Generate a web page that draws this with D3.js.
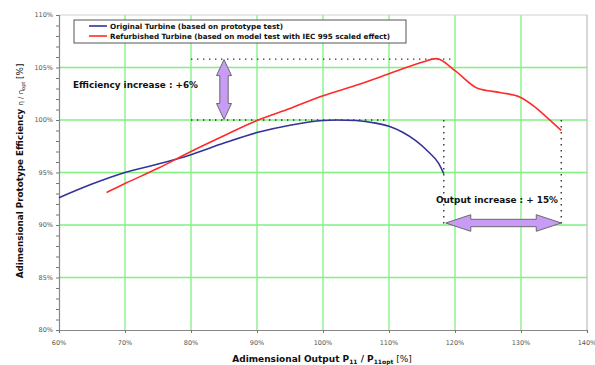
<!DOCTYPE html>
<html><head><meta charset="utf-8">
<script src="https://cdn.jsdelivr.net/npm/d3@7"></script>
<style>body{margin:0;background:#fff}svg{display:block}</style>
</head><body>
<svg id="c" width="595" height="365"></svg>
<script>
// ---- data ----
const xTicks = [60, 70, 80, 90, 100, 110, 120, 130, 140];
const yTicks = [80, 85, 90, 95, 100, 105, 110];
const xTickLabels = ["60%", "70%", "80%", "90%", "100%", "110%", "120%", "130%", "140%"];
const yTickLabels = ["80%", "85%", "90%", "95%", "100%", "105%", "110%"];
const yMinorTicks = d3.range(80, 110.5, 1);

const originalX = [60, 65, 70, 75, 80, 85, 90, 95, 100, 102, 105, 108, 110, 112, 114, 116, 117.5, 118.3];
const originalY = [92.6, 93.9, 95.0, 95.8, 96.7, 97.8, 98.8, 99.5, 99.95, 100.0, 99.95, 99.7, 99.4, 98.85, 98.05, 96.95, 95.9, 94.9];

const refurbX = [67.2, 70, 75, 80, 85, 90, 95, 100, 105, 110, 115, 117.2, 120, 123.5, 127, 129.8, 132, 134, 136.1];
const refurbY = [93.1, 93.95, 95.4, 97.0, 98.5, 99.95, 101.1, 102.3, 103.3, 104.4, 105.5, 105.85, 104.7, 103.0, 102.6, 102.2, 101.3, 100.2, 99.0];

const seriesNames = ["Original Turbine (based on prototype test)",
  "Refurbished Turbine (based on model test with IEC 995 scaled effect)"];

// annotation values
const effTop = 105.8, effBase = 100, effArrowX = 85;
const effTopRange = [80, 120], effBaseRange = [80, 110];
const outStart = 118.3, outEnd = 136.1, outLevel = 90, outTopLevel = 100;
const effText = "Efficiency increase : +6%";
const outText = "Output increase : + 15%";

// ---- layout ----
const svg = d3.select("#c");
const L = 59, R = 587, T = 15, B = 330;
const x = d3.scaleLinear().domain([60, 140]).range([L, R]);
const y = d3.scaleLinear().domain([80, 110]).range([B, T]);
const FONT = "DejaVu Sans, Verdana, sans-serif";

svg.append("rect").attr("width", 595).attr("height", 365).attr("fill", "#fff");

// grid
const grid = svg.append("g").attr("stroke", "#7ff27f").attr("stroke-width", 1.3);
xTicks.filter(d => d > 60 && d < 140).forEach(d => {
  grid.append("line").attr("x1", x(d)).attr("x2", x(d)).attr("y1", T).attr("y2", B);
});
yTicks.filter(d => d > 80 && d < 110).forEach(d => {
  grid.append("line").attr("x1", L).attr("x2", R).attr("y1", y(d)).attr("y2", y(d));
});

// frame top/right
svg.append("line").attr("x1", L).attr("x2", R).attr("y1", T).attr("y2", T).attr("stroke", "#cfcfcf").attr("stroke-width", 1.2);
svg.append("line").attr("x1", R).attr("x2", R).attr("y1", T).attr("y2", B).attr("stroke", "#bdbdbd").attr("stroke-width", 1.2);

// axes
const yAxis = d3.axisLeft(y).tickValues(yMinorTicks).tickSize(3).tickFormat("");
const gy = svg.append("g").attr("transform", `translate(${L},0)`).call(yAxis);
gy.select(".domain").attr("stroke", "#888").attr("stroke-width", 1.2);
gy.selectAll(".tick line").attr("stroke", "#777");

const xAxis = d3.axisBottom(x).tickValues(xTicks).tickSize(3).tickFormat("");
const gx = svg.append("g").attr("transform", `translate(0,${B})`).call(xAxis);
gx.select(".domain").attr("stroke", "#888").attr("stroke-width", 1.2);
gx.selectAll(".tick line").attr("stroke", "#777");

// tick labels
svg.append("g").selectAll("text").data(yTicks).join("text")
  .attr("x", 53).attr("y", d => y(d)).attr("dy", "0.35em")
  .attr("text-anchor", "end").attr("font-family", FONT).attr("font-size", 6.5)
  .attr("fill", "#555").text((d, i) => yTickLabels[i]);
svg.append("g").selectAll("text").data(xTicks).join("text")
  .attr("x", d => x(d)).attr("y", 345)
  .attr("text-anchor", "middle").attr("font-family", FONT).attr("font-size", 6.5)
  .attr("fill", "#555").text((d, i) => xTickLabels[i]);

// axis titles
const xt = svg.append("text").attr("x", 322).attr("y", 362).attr("text-anchor", "middle")
  .attr("font-family", FONT).attr("font-weight", "bold").attr("font-size", 9).attr("fill", "#111");
xt.append("tspan").text("Adimensional Output P");
xt.append("tspan").attr("font-size", 6).attr("dy", 2).text("11");
xt.append("tspan").attr("dy", -2).text(" / P");
xt.append("tspan").attr("font-size", 6).attr("dy", 2).text("11opt");
xt.append("tspan").attr("dy", -2).attr("font-weight", "normal").text(" [%]");

const yt = svg.append("text").attr("transform", `translate(23,171) rotate(-90)`).attr("text-anchor", "middle")
  .attr("font-family", FONT).attr("font-weight", "bold").attr("font-size", 8.8).attr("fill", "#111");
yt.append("tspan").text("Adimensional Prototype Efficiency ");
yt.append("tspan").attr("font-weight", "normal").attr("font-size", 7).text("η / η");
yt.append("tspan").attr("font-weight", "normal").attr("font-size", 5).attr("dy", 2).text("opt");
yt.append("tspan").attr("font-weight", "normal").attr("dy", -2).text(" [%]");

// dotted guide lines
const dots = svg.append("g").attr("stroke", "#333").attr("stroke-width", 1.4).attr("stroke-dasharray", "1.4,4.6");
dots.append("line").attr("x1", x(effTopRange[0])).attr("x2", x(effTopRange[1])).attr("y1", y(effTop)).attr("y2", y(effTop));
dots.append("line").attr("x1", x(effBaseRange[0])).attr("x2", x(effBaseRange[1])).attr("y1", y(effBase)).attr("y2", y(effBase));
dots.append("line").attr("x1", x(outStart)).attr("x2", x(outStart)).attr("y1", y(outTopLevel)).attr("y2", y(outLevel));
dots.append("line").attr("x1", x(outEnd)).attr("x2", x(outEnd)).attr("y1", y(outTopLevel)).attr("y2", y(outLevel));

// curves
const line = d3.line().x(d => x(d[0])).y(d => y(d[1])).curve(d3.curveMonotoneX);
svg.append("path").datum(d3.zip(originalX, originalY)).attr("d", line)
  .attr("fill", "none").attr("stroke", "#33339a").attr("stroke-width", 1.6);
svg.append("path").datum(d3.zip(refurbX, refurbY)).attr("d", line)
  .attr("fill", "none").attr("stroke", "#ff2a2a").attr("stroke-width", 1.6);

// double arrows
function vArrow(cx, y1, y2, hw, sw, hl) {
  return `M${cx},${y1} L${cx + hw},${y1 + hl} L${cx + sw},${y1 + hl} L${cx + sw},${y2 - hl} L${cx + hw},${y2 - hl} L${cx},${y2} L${cx - hw},${y2 - hl} L${cx - sw},${y2 - hl} L${cx - sw},${y1 + hl} L${cx - hw},${y1 + hl} Z`;
}
function hArrow(cy, x1, x2, hw, sw, hl) {
  return `M${x1},${cy} L${x1 + hl},${cy - hw} L${x1 + hl},${cy - sw} L${x2 - hl},${cy - sw} L${x2 - hl},${cy - hw} L${x2},${cy} L${x2 - hl},${cy + hw} L${x2 - hl},${cy + sw} L${x1 + hl},${cy + sw} L${x1 + hl},${cy + hw} Z`;
}
svg.append("path").attr("d", vArrow(x(effArrowX), y(effTop) + 0.5, y(effBase) - 0.5, 7.5, 4.2, 16))
  .attr("fill", "#c89cf5").attr("stroke", "#6a6a6a").attr("stroke-width", 1);
svg.append("path").attr("d", hArrow(y(outLevel) - 2, x(outStart) + 2, x(outEnd), 8.3, 3.7, 25))
  .attr("fill", "#c89cf5").attr("stroke", "#6a6a6a").attr("stroke-width", 1);

// annotation texts
svg.append("text").attr("x", 73).attr("y", 88).attr("font-family", FONT).attr("font-weight", "bold")
  .attr("font-size", 9.5).attr("fill", "#111").attr("textLength", 125).attr("lengthAdjust", "spacingAndGlyphs").text(effText);
svg.append("text").attr("x", 436).attr("y", 202.5).attr("font-family", FONT).attr("font-weight", "bold")
  .attr("font-size", 9.3).attr("fill", "#111").attr("textLength", 122).attr("lengthAdjust", "spacingAndGlyphs").text(outText);

// legend
const lg = svg.append("g");
lg.append("rect").attr("x", 74).attr("y", 20).attr("width", 332).attr("height", 23)
  .attr("fill", "#fff").attr("stroke", "#555").attr("stroke-width", 1);
const legColors = ["#33339a", "#ff2a2a"];
const legW = [173, 280];
seriesNames.forEach((name, i) => {
  const ly = 26 + i * 10;
  lg.append("line").attr("x1", 89).attr("x2", 107).attr("y1", ly).attr("y2", ly)
    .attr("stroke", legColors[i]).attr("stroke-width", 1.6);
  lg.append("text").attr("x", 110).attr("y", ly + 2.6).attr("font-family", FONT).attr("font-weight", "bold")
    .attr("font-size", 7.2).attr("fill", "#111").attr("textLength", legW[i]).attr("lengthAdjust", "spacingAndGlyphs").text(name);
});
</script>
</body></html>
